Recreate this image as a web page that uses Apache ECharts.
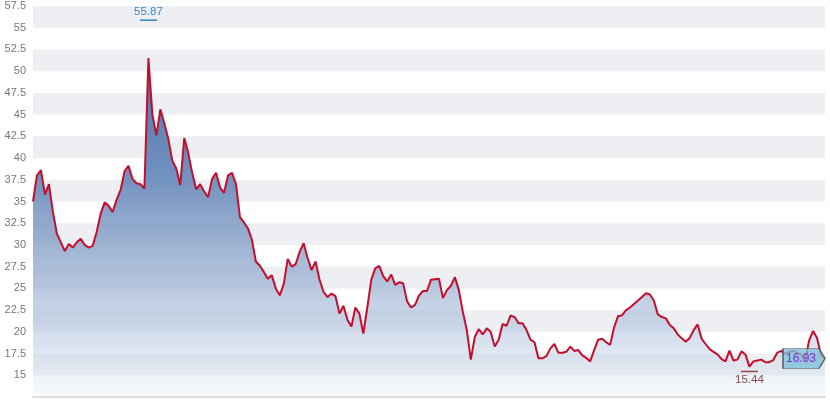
<!DOCTYPE html>
<html>
<head>
<meta charset="utf-8">
<script src="https://cdn.jsdelivr.net/npm/echarts@6/dist/echarts.min.js"></script>
<style>html,body{margin:0;padding:0;background:#fff}#c{width:830px;height:406px}</style>
</head>
<body>
<div id="c"></div>
<script>
var closeValues = [
35.0,38.0,38.6,35.8,37.0,33.8,31.3,30.3,29.3,30.1,
29.7,30.3,30.7,30.0,29.7,29.9,31.5,33.6,34.9,34.5,
33.8,35.2,36.3,38.5,39.1,37.6,37.1,37.0,36.5,51.5,
45.0,42.6,45.6,44.0,42.2,39.7,38.8,36.9,42.3,40.6,
38.3,36.4,37.0,36.15,35.5,37.6,38.3,36.6,36.0,38.0,
38.3,37.0,33.2,32.6,31.9,30.6,28.1,27.6,26.9,26.1,
26.5,25.0,24.2,25.5,28.4,27.5,27.8,29.2,30.2,28.5,
27.1,28.1,26.0,24.6,24.0,24.4,24.1,22.1,23.0,21.4,
20.6,22.8,22.1,19.8,22.8,26.0,27.3,27.6,26.4,25.8,
26.6,25.4,25.7,25.6,23.5,22.8,23.1,24.2,24.7,24.7,
26.0,26.05,26.1,23.9,24.8,25.3,26.3,24.8,22.3,20.2,
16.8,19.4,20.3,19.7,20.4,20.0,18.3,19.1,20.9,20.7,
21.9,21.7,21.0,21.0,20.2,19.1,18.8,16.95,16.95,17.2,
18.1,18.6,17.6,17.6,17.7,18.3,17.8,17.9,17.3,17.0,
16.6,17.9,19.1,19.2,18.8,18.5,20.5,21.8,21.9,22.5,
22.8,23.2,23.6,24.0,24.45,24.3,23.6,22.0,21.7,21.55,
20.8,20.4,19.7,19.25,18.85,19.3,20.2,20.85,19.2,18.6,
18.0,17.7,17.4,16.85,16.6,17.85,16.7,16.8,17.75,17.4,
16.0,16.6,16.7,16.8,16.5,16.5,16.75,17.6,17.8,17.5,
17.7,17.8,17.6,17.4,16.6,19.0,20.1,19.3,17.3,16.93
];
var categories = closeValues.map(function (_, i) { return String(i + 1); });
var highMark = { index: 29, value: 55.87 };
var lowMark = { index: 180, value: 15.44 };
var lastValue = 16.93;
var yMin = 12.5, yMax = 57.5, yStep = 2.5;

var chart = echarts.init(document.getElementById('c'), null, { renderer: 'canvas' });
chart.setOption({
  animation: false,
  backgroundColor: '#ffffff',
  grid: { left: 33, right: 5, top: 6, bottom: 9, containLabel: false },
  xAxis: {
    type: 'category',
    data: categories,
    boundaryGap: false,
    axisLine: { show: true, lineStyle: { color: '#dcdcdc', width: 2 } },
    axisTick: { show: false },
    axisLabel: { show: false },
    splitLine: { show: false }
  },
  yAxis: {
    type: 'value',
    min: yMin, max: yMax, interval: yStep,
    axisLine: { show: false },
    axisTick: { show: false },
    splitLine: { show: false },
    splitArea: { show: true, areaStyle: { color: ['rgba(255,255,255,0)', 'rgba(238,239,242,1)'] } },
    axisLabel: {
      showMinLabel: false,
      color: '#777777', fontSize: 11, fontFamily: 'Liberation Sans, Arial, sans-serif', margin: 7
    }
  },
  series: [{
    type: 'line',
    data: closeValues,
    showSymbol: false,
    symbol: 'none',
    lineStyle: { color: '#c40e2c', width: 2 },
    areaStyle: {
      opacity: 1,
      color: new echarts.graphic.LinearGradient(0, 0, 0, 1, [
        { offset: 0, color: 'rgba(76,112,168,1)' },
        { offset: 0.35, color: 'rgba(106,140,188,0.95)' },
        { offset: 0.6, color: 'rgba(146,170,205,0.8)' },
        { offset: 0.85, color: 'rgba(188,205,228,0.55)' },
        { offset: 1, color: 'rgba(232,238,246,0.3)' }
      ])
    },
    markPoint: {
      silent: true,
      data: [
        {
          coord: [highMark.index, highMark.value],
          symbol: 'rect', symbolSize: [17, 1.5],
          itemStyle: { color: '#2f7fc0' },
          label: { show: true, position: 'top', distance: 2, formatter: String(highMark.value), color: '#3a8cc8', fontSize: 11.5, fontFamily: 'Liberation Sans, Arial, sans-serif' }
        },
        {
          coord: [lowMark.index, lowMark.value],
          symbol: 'rect', symbolSize: [17, 1.5],
          itemStyle: { color: '#a04040' },
          label: { show: true, position: 'bottom', distance: 2, formatter: String(lowMark.value), color: '#8a4a4a', fontSize: 11.5, fontFamily: 'Liberation Sans, Arial, sans-serif' }
        },
        {
          coord: [closeValues.length - 1, lastValue],
          symbol: 'path://M0,0 L36,0 L42,10 L36,20 L0,20 Z',
          symbolSize: [42, 20], symbolOffset: [-21, 0], symbolKeepAspect: false,
          itemStyle: { color: 'rgba(130,192,218,0.8)', borderColor: '#555', borderWidth: 1 },
          label: { show: true, position: 'inside', offset: [-3, 0], formatter: String(lastValue), color: '#7a2fd0', fontSize: 12, fontFamily: 'Liberation Sans, Arial, sans-serif' }
        }
      ]
    }
  }]
});
</script>
</body>
</html>
